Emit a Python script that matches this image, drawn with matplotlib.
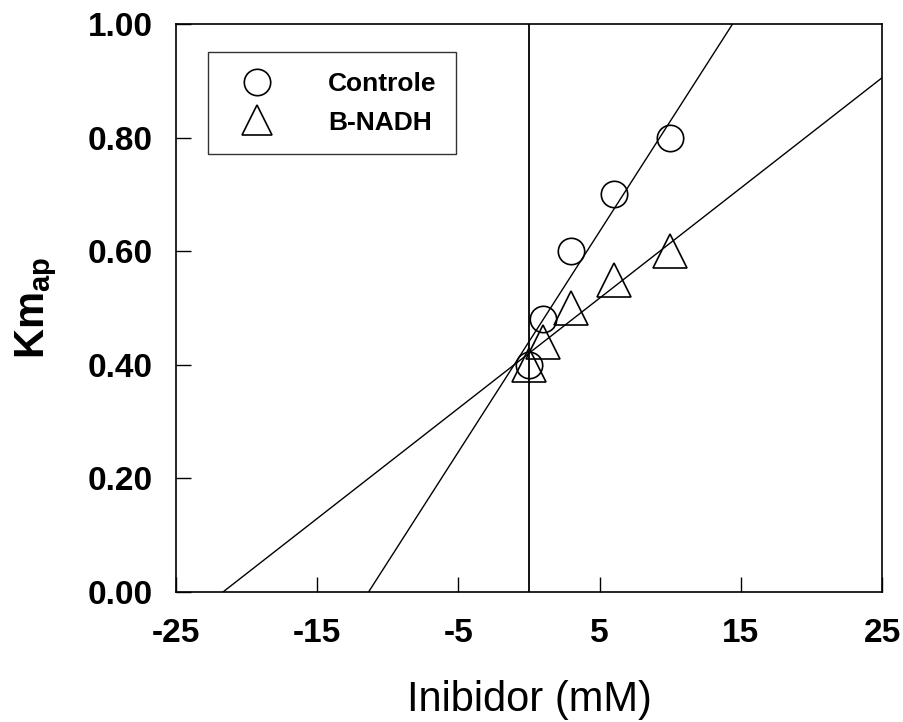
import numpy as np
import matplotlib
matplotlib.use('Agg')
import matplotlib.pyplot as plt

plt.rcParams['font.family'] = ['Liberation Sans', 'DejaVu Sans']
plt.rcParams['axes.unicode_minus'] = False

inibidor = [0, 1, 3, 6, 10]
km_controle = [0.40, 0.48, 0.60, 0.70, 0.80]
km_nadh = [0.40, 0.44, 0.50, 0.55, 0.60]
x_ticks = [-25, -15, -5, 5, 15, 25]
y_ticks = [0.0, 0.2, 0.4, 0.6, 0.8, 1.0]

fig = plt.figure(figsize=(9.04, 7.22), dpi=100)
ax = fig.add_axes([0.1947, 0.18, 0.781, 0.7868])

# regression lines, drawn across the whole x range and clipped by the axes
xx = np.array([-25, 25])
for yy in (km_controle, km_nadh):
    m, b = np.polyfit(inibidor, yy, 1)
    ax.plot(xx, m * xx + b, color='black', lw=1.0, zorder=2)

ax.axvline(0, color='black', lw=1.3, zorder=2)

ax.plot(inibidor, km_controle, 'o', ms=19, mfc='none', mec='black', mew=1.2,
        label='Controle', zorder=3)
ax.plot(inibidor, km_nadh, '^', ms=24, mfc='none', mec='black', mew=1.2,
        label='B-NADH', zorder=3)

ax.set_xlim(-25, 25)
ax.set_ylim(0, 1)
ax.set_xticks(x_ticks)
ax.set_yticks(y_ticks)
ax.set_yticklabels(['%.2f' % v for v in y_ticks])
ax.tick_params(direction='in', length=11, width=1.0, labelsize=24)
ax.tick_params(axis='x', pad=19)
ax.tick_params(axis='y', pad=17)
for lab in ax.get_xticklabels() + ax.get_yticklabels():
    lab.set_fontweight('bold')
for s in ax.spines.values():
    s.set_linewidth(1.2)

ax.set_xlabel('Inibidor (mM)', fontsize=30)
ax.xaxis.set_label_coords(0.501, -0.155)
ax.set_ylabel(r'Km$_{\mathregular{ap}}$', fontsize=30, fontweight='bold')
ax.yaxis.set_label_coords(-0.166, 0.5)

leg = ax.legend(loc='upper left', bbox_to_anchor=(0.045, 0.95),
                prop={'weight': 'bold', 'size': 19}, frameon=True, fancybox=False,
                edgecolor='black', borderpad=0.75, handletextpad=1.6,
                labelspacing=0.55, markerscale=1.0, handlelength=2.2,
                borderaxespad=0)
leg.get_frame().set_linewidth(1.0)
leg.legend_handles[1].set_markersize(22)

fig.savefig('out.png', dpi=100)
